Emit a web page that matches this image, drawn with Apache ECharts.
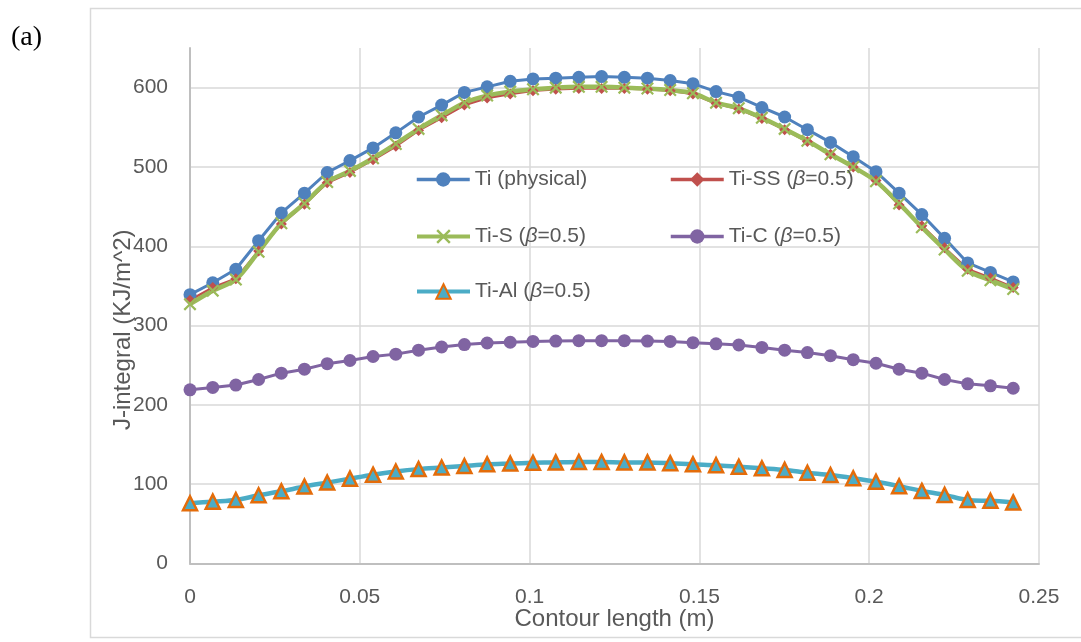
<!DOCTYPE html>
<html>
<head>
<meta charset="utf-8">
<script src="https://cdn.jsdelivr.net/npm/echarts@6/dist/echarts.min.js"></script>
<style>
  html, body { margin: 0; padding: 0; background: #ffffff; }
  #chart { width: 1081px; height: 642px; }
</style>
</head>
<body>
<div id="chart"></div>
<script>
// Contour position along the crack front path (m)
const contourLength = [
  0, 0.0067, 0.0135, 0.0202, 0.0269, 0.0337, 0.0404, 0.0471, 0.0539, 0.0606,
  0.0673, 0.0741, 0.0808, 0.0875, 0.0943, 0.1010, 0.1077, 0.1145, 0.1212, 0.1279,
  0.1347, 0.1414, 0.1481, 0.1549, 0.1616, 0.1684, 0.1751, 0.1818, 0.1886, 0.1953,
  0.2020, 0.2088, 0.2155, 0.2222, 0.2290, 0.2357, 0.2424
];

// J-integral values (KJ/m^2)
const tiPhysical = [
  339, 354, 371, 407, 442, 467, 493, 508, 524, 543,
  563, 578, 594, 601, 608, 611, 612, 613, 614, 613,
  612, 609, 605, 595, 588, 575, 563, 547, 531, 513,
  494, 467, 440, 410, 379, 367, 355
];
const tiSS = [
  332, 348, 359, 394, 428, 453, 480, 493, 509, 526,
  546, 562, 578, 587, 592, 596, 598, 599, 599, 599,
  598, 596, 592, 580, 573, 561, 547, 532, 516, 500,
  483, 452, 426, 398, 371, 360, 348
];
const tiS = [
  327, 344, 358, 393, 429, 454, 481, 495, 511, 529,
  548, 565, 581, 590, 595, 598, 600, 601, 601, 600,
  599, 597, 593, 581, 574, 562, 548, 533, 516, 500,
  482, 454, 424, 396, 369, 357, 346
];
const tiC = [
  219, 222, 225, 232, 240, 245, 252, 256, 261, 264,
  269, 273, 276, 278, 279, 280, 280.5, 281, 281, 281,
  280.5, 280, 278.5, 277, 275.5, 272.5, 269, 266, 262, 257,
  252.5, 245, 240, 232, 226.5, 224, 221
];
const tiAl = [
  76, 78, 80, 86, 91, 97, 102, 107, 112, 116,
  119, 121, 123, 125, 126, 127, 127.5, 128, 128, 127.5,
  127.5, 126.5, 125, 124, 122, 120, 118, 114.5, 111.5, 107.5,
  103, 97.5, 91.5, 86.5, 80, 79, 77
];

const seriesNames = [
  'Ti (physical)',
  'Ti-SS (\u03B2=0.5)',
  'Ti-S (\u03B2=0.5)',
  'Ti-C (\u03B2=0.5)',
  'Ti-Al (\u03B2=0.5)'
];

const xRange = { min: 0, max: 0.25, interval: 0.05 };
const yRange = { min: 0, max: 650, interval: 100 };

const FONT = '"Liberation Sans", "DejaVu Sans", sans-serif';
const TEXT_GRAY = '#595959';
const GRID_GRAY = '#d9d9d9';
const AXIS_GRAY = '#bfbfbf';

const CROSS = 'path://M0,1.2 L1.2,0 L5,3.8 L8.8,0 L10,1.2 L6.2,5 L10,8.8 L8.8,10 L5,6.2 L1.2,10 L0,8.8 L3.8,5 Z';

function pairs(ys) {
  return contourLength.map((x, i) => [x, ys[i]]);
}

function legendAt(name, left, top, lineWidth) {
  return {
    data: [name],
    left: left,
    top: top,
    padding: 0,
    itemWidth: 53,
    itemHeight: 18,
    selectedMode: false,
    lineStyle: { width: lineWidth },
    formatter: n => n.replace('\u03B2', '{i|\u03B2}'),
    textStyle: {
      fontFamily: FONT,
      fontSize: 21,
      color: TEXT_GRAY,
      rich: {
        i: { fontFamily: FONT, fontSize: 21, color: TEXT_GRAY, fontStyle: 'italic' }
      }
    }
  };
}

const chart = echarts.init(document.getElementById('chart'), null, { renderer: 'canvas' });

chart.setOption({
  animation: false,
  backgroundColor: '#ffffff',
  grid: { left: 190, right: 42, top: 48, bottom: 78.5 },
  graphic: [
    {
      type: 'rect',
      shape: { x: 90.5, y: 8.5, width: 1000, height: 629 },
      style: { fill: 'none', stroke: GRID_GRAY, lineWidth: 1.5 },
      silent: true,
      z: -10
    },
    {
      type: 'text',
      left: 11,
      top: 24,
      style: { text: '(a)', fontFamily: '"Liberation Serif", "DejaVu Serif", serif', fontSize: 28, fill: '#000000' }
    }
  ],
  legend: [
    legendAt(seriesNames[0], 415, 169, 3.5),
    legendAt(seriesNames[1], 669, 169, 3.5),
    legendAt(seriesNames[2], 415, 226, 4),
    legendAt(seriesNames[3], 669, 226, 3.5),
    legendAt(seriesNames[4], 415, 281, 4)
  ],
  xAxis: {
    type: 'value',
    min: xRange.min,
    max: xRange.max,
    interval: xRange.interval,
    name: 'Contour length (m)',
    nameLocation: 'middle',
    nameGap: 44,
    nameMoveOverlap: false,
    nameTextStyle: { fontFamily: FONT, fontSize: 24, color: TEXT_GRAY },
    axisLine: { show: true, onZero: true, lineStyle: { color: AXIS_GRAY, width: 2 } },
    axisTick: { show: false },
    axisLabel: { margin: 23, fontFamily: FONT, fontSize: 21, color: TEXT_GRAY },
    splitLine: { show: true, lineStyle: { color: GRID_GRAY, width: 1.5 } }
  },
  yAxis: {
    type: 'value',
    min: yRange.min,
    max: yRange.max,
    interval: yRange.interval,
    name: 'J-integral (KJ/m^2)',
    nameLocation: 'middle',
    nameGap: 55,
    nameMoveOverlap: false,
    nameTextStyle: { fontFamily: FONT, fontSize: 24, color: TEXT_GRAY, padding: [0, 48, 0, 0] },
    axisLine: { show: true, lineStyle: { color: AXIS_GRAY, width: 2 } },
    axisTick: { show: false },
    axisLabel: { margin: 22, fontFamily: FONT, fontSize: 21, color: TEXT_GRAY, showMaxLabel: false },
    splitLine: { show: true, showMaxLine: false, lineStyle: { color: GRID_GRAY, width: 1.5 } }
  },
  series: [
    {
      name: seriesNames[0],
      type: 'line',
      data: pairs(tiPhysical),
      symbol: 'circle',
      symbolSize: 13,
      lineStyle: { color: '#4f81bd', width: 3 },
      itemStyle: { color: '#4f81bd' }
    },
    {
      name: seriesNames[1],
      type: 'line',
      data: pairs(tiSS),
      symbol: 'diamond',
      symbolSize: 11,
      lineStyle: { color: '#c0504d', width: 2.5 },
      itemStyle: { color: '#c0504d' }
    },
    {
      name: seriesNames[2],
      type: 'line',
      data: pairs(tiS),
      smooth: 0.3,
      symbol: CROSS,
      symbolSize: 13,
      lineStyle: { color: '#9bbb59', width: 4.5 },
      itemStyle: { color: '#9bbb59' }
    },
    {
      name: seriesNames[3],
      type: 'line',
      data: pairs(tiC),
      symbol: 'circle',
      symbolSize: 13,
      lineStyle: { color: '#8064a2', width: 3 },
      itemStyle: { color: '#8064a2' }
    },
    {
      name: seriesNames[4],
      type: 'line',
      data: pairs(tiAl),
      smooth: 0.3,
      symbol: 'triangle',
      symbolSize: 14,
      lineStyle: { color: '#4bacc6', width: 4.5 },
      itemStyle: { color: '#4bacc6', borderColor: '#e46c0a', borderWidth: 2.5 }
    }
  ]
});
</script>
</body>
</html>
